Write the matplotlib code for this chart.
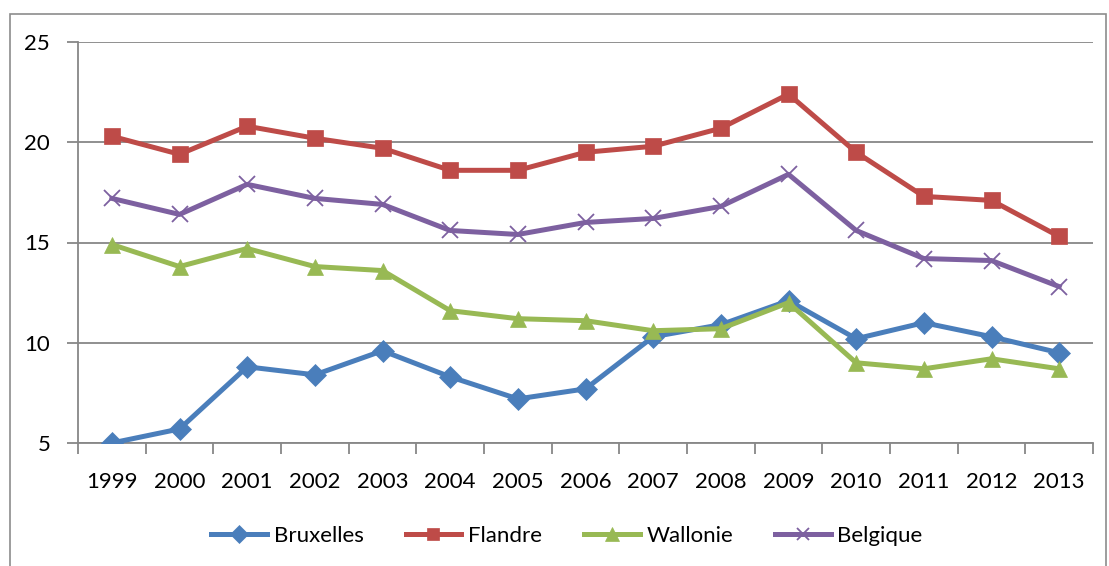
import matplotlib
matplotlib.use("Agg")
import matplotlib.pyplot as plt
from matplotlib.patches import Rectangle
from matplotlib.lines import Line2D

years = ["1999", "2000", "2001", "2002", "2003", "2004", "2005", "2006",
         "2007", "2008", "2009", "2010", "2011", "2012", "2013"]
bruxelles = [5.0, 5.7, 8.8, 8.4, 9.6, 8.3, 7.2, 7.7, 10.3, 10.9, 12.1, 10.2, 11.0, 10.3, 9.5]
flandre = [20.3, 19.4, 20.8, 20.2, 19.7, 18.6, 18.6, 19.5, 19.8, 20.7, 22.4, 19.5, 17.3, 17.1, 15.3]
wallonie = [14.9, 13.8, 14.7, 13.8, 13.6, 11.6, 11.2, 11.1, 10.6, 10.7, 12.0, 9.0, 8.7, 9.2, 8.7]
belgique = [17.2, 16.4, 17.9, 17.2, 16.9, 15.6, 15.4, 16.0, 16.2, 16.8, 18.4, 15.6, 14.2, 14.1, 12.8]
yticks = [5, 10, 15, 20, 25]

plt.rcParams['font.family'] = ['Lato', 'DejaVu Sans']

W, H = 1109, 566
fig = plt.figure(figsize=(W / 100, H / 100), dpi=100)
fig.patch.set_facecolor("white")
fig.patches.append(Rectangle((10 / W, -0.01), 1096 / W, 1 - 14 / H + 0.01,
                             transform=fig.transFigure, fill=False,
                             edgecolor="#8c8c8c", linewidth=1.2))

ax = fig.add_axes([78 / W, 1 - 443 / H, (1093 - 78) / W, (443 - 42) / H])
x = list(range(len(years)))
grid_c = "#878787"

series = [
    ("Bruxelles", bruxelles, "#4A7EBB", "D", 11, 3.6, 0),
    ("Flandre", flandre, "#BE4B48", "s", 11, 3.6, 0),
    ("Wallonie", wallonie, "#98B954", "^", 12, 3.6, 0),
    ("Belgique", belgique, "#7D60A0", "x", 11, 3.6, 1.3),
]
handles = []
for name, vals, col, mk, ms, lw, mew in series:
    ax.plot(x, vals, color=col, linewidth=lw, marker=mk, markersize=ms,
            markeredgewidth=mew if mew else 0.5, markeredgecolor=col,
            markerfacecolor=col, solid_joinstyle="round", clip_on=True, zorder=3)
    handles.append(Line2D([], [], color=col, linewidth=lw, marker=mk, markersize=ms * 0.85,
                          markeredgewidth=mew if mew else 0.5, markeredgecolor=col,
                          markerfacecolor=col, label=name))

ax.set_xlim(-0.5, len(years) - 0.5)
ax.set_ylim(5, 25)
ax.set_yticks(yticks)
ax.set_yticklabels([str(v) for v in yticks], fontsize=16)
ax.yaxis.grid(True, color=grid_c, linewidth=1.3)
ax.set_axisbelow(True)
ax.tick_params(axis="y", length=8, width=1.3, color=grid_c, pad=12, direction="out")

ax.set_xticks(x)
ax.set_xticklabels(years, fontsize=16)
ax.tick_params(axis="x", length=0, pad=21)
ax.set_xticks([i - 0.5 for i in range(len(years) + 1)], minor=True)
ax.tick_params(axis="x", which="minor", length=8, width=1.3, color=grid_c, direction="out")

for s in ["top", "right"]:
    ax.spines[s].set_visible(False)
for s in ["left", "bottom"]:
    ax.spines[s].set_color(grid_c)
    ax.spines[s].set_linewidth(1.3)

fig.legend(handles=handles, loc="center", bbox_to_anchor=(567 / W, 1 - 536 / H),
           ncol=4, frameon=False, fontsize=16, handlelength=2.5,
           columnspacing=1.9, handletextpad=0.3)

fig.savefig("out.png", dpi=100)
